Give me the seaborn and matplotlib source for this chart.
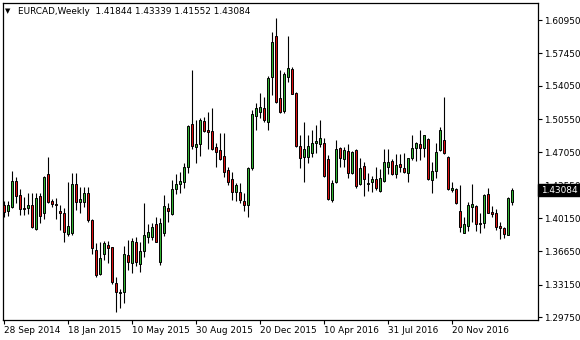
import numpy as np
import pandas as pd
import matplotlib
matplotlib.use("Agg")
import matplotlib.pyplot as plt
from matplotlib.patches import Rectangle
import seaborn as sns

# ---------------- data (EURCAD weekly OHLC) ----------------
start_date = "2014-09-28"
opens = [1.4151, 1.4085, 1.4127, 1.4400, 1.4253, 1.4120, 1.4123, 1.4148, 1.3896, 1.4246,
         1.4064, 1.4477, 1.4193, 1.4162, 1.4088, 1.4067, 1.3847, 1.3854, 1.4372, 1.4179,
         1.4186, 1.4274, 1.3994, 1.3679, 1.3423, 1.3633, 1.3731, 1.3707, 1.3329, 1.3231,
         1.3241, 1.3626, 1.3539, 1.3759, 1.3532, 1.3668, 1.3812, 1.3819, 1.3948, 1.3556,
         1.3854, 1.4116, 1.4053, 1.4325, 1.4368, 1.4396, 1.4547, 1.4998, 1.4764, 1.4792,
         1.5030, 1.4939, 1.4925, 1.4764, 1.4725, 1.4666, 1.4515, 1.4421, 1.4291, 1.4291,
         1.4193, 1.4155, 1.4536, 1.5089, 1.5131, 1.5170, 1.5019, 1.5492, 1.5926, 1.5271,
         1.5142, 1.5492, 1.5583, 1.5324, 1.4771, 1.4659, 1.4659, 1.4694, 1.4806, 1.4788,
         1.4806, 1.4634, 1.4204, 1.4396, 1.4746, 1.4634, 1.4718, 1.4484, 1.4729, 1.4372,
         1.4561, 1.4375, 1.4389, 1.4424, 1.4302, 1.4407, 1.4554, 1.4613, 1.4473, 1.4578,
         1.4536, 1.4491, 1.4641, 1.4746, 1.4788, 1.4746, 1.4844, 1.4410, 1.4505, 1.4729,
         1.4834, 1.4655, 1.4309, 1.4316, 1.4088, 1.3861, 1.3931, 1.4127, 1.4141, 1.3959,
         1.3966, 1.4267, 1.4074, 1.4064, 1.3931, 1.3906, 1.3840, 1.41844]
highs = [1.4193, 1.4193, 1.4505, 1.4449, 1.4316, 1.4239, 1.4274, 1.4281, 1.4281, 1.4274,
         1.4456, 1.4652, 1.4211, 1.4221, 1.4151, 1.4116, 1.4389, 1.4491, 1.4484, 1.4344,
         1.4344, 1.4344, 1.4000, 1.3749, 1.3766, 1.3773, 1.3773, 1.3714, 1.3392, 1.3269,
         1.3721, 1.3784, 1.3801, 1.3812, 1.3766, 1.4176, 1.3952, 1.3959, 1.4029, 1.4011,
         1.4256, 1.4169, 1.4414, 1.4480, 1.4501, 1.4589, 1.4991, 1.5569, 1.5044, 1.5061,
         1.5079, 1.5124, 1.5166, 1.4799, 1.4904, 1.4904, 1.4554, 1.4501, 1.4386, 1.4379,
         1.4274, 1.4554, 1.5149, 1.5226, 1.5324, 1.5289, 1.5506, 1.5964, 1.6111, 1.5569,
         1.5551, 1.5926, 1.5604, 1.5341, 1.4886, 1.5019, 1.4886, 1.4939, 1.4991, 1.5044,
         1.4851, 1.4676, 1.4414, 1.4834, 1.4764, 1.4764, 1.4792, 1.4722, 1.4736, 1.4641,
         1.4606, 1.4491, 1.4456, 1.4547, 1.4526, 1.4736, 1.4739, 1.4631, 1.4683, 1.4687,
         1.4701, 1.4641, 1.4886, 1.4816, 1.4939, 1.4886, 1.4851, 1.4606, 1.4799, 1.4974,
         1.5289, 1.4666, 1.4396, 1.4326, 1.4361, 1.4029, 1.4186, 1.4372, 1.4151, 1.4064,
         1.4267, 1.4326, 1.4141, 1.4106, 1.3976, 1.3924, 1.4232, 1.43339]
lows = [1.4022, 1.4036, 1.4116, 1.4169, 1.4046, 1.4046, 1.4057, 1.3913, 1.3889, 1.3966,
        1.4008, 1.4169, 1.4134, 1.4001, 1.3889, 1.3759, 1.3826, 1.3836, 1.4099, 1.4071,
        1.4127, 1.3976, 1.3633, 1.3392, 1.3416, 1.3574, 1.3539, 1.3322, 1.3031, 1.3066,
        1.3119, 1.3469, 1.3434, 1.3511, 1.3444, 1.3609, 1.3756, 1.3784, 1.3760, 1.3521,
        1.3826, 1.3976, 1.4045, 1.4265, 1.4274, 1.4326, 1.4484, 1.4739, 1.4589, 1.4669,
        1.4921, 1.4736, 1.4729, 1.4554, 1.4624, 1.4449, 1.4361, 1.4204, 1.4193, 1.4169,
        1.4092, 1.4029, 1.4519, 1.4939, 1.5061, 1.5026, 1.4939, 1.5306, 1.5226, 1.5121,
        1.5114, 1.5446, 1.5313, 1.4764, 1.4536, 1.4396, 1.4596, 1.4659, 1.4694, 1.4764,
        1.4449, 1.4204, 1.4186, 1.4379, 1.4554, 1.4547, 1.4438, 1.4477, 1.4326, 1.4361,
        1.4249, 1.4302, 1.4291, 1.4309, 1.4291, 1.4396, 1.4477, 1.4466, 1.4431, 1.4501,
        1.4491, 1.4389, 1.4624, 1.4617, 1.4624, 1.4659, 1.4414, 1.4274, 1.4438, 1.4722,
        1.4687, 1.4309, 1.4291, 1.4162, 1.3871, 1.3854, 1.3878, 1.3976, 1.3878, 1.3861,
        1.3906, 1.4064, 1.4022, 1.3889, 1.3791, 1.3801, 1.3840, 1.41552]
closes = [1.4081, 1.4148, 1.4400, 1.4246, 1.4106, 1.4113, 1.4148, 1.3924, 1.4221, 1.4039,
          1.4442, 1.4183, 1.4158, 1.4148, 1.4064, 1.3864, 1.3931, 1.4372, 1.4186, 1.4211,
          1.4274, 1.3994, 1.3696, 1.3416, 1.3591, 1.3749, 1.3696, 1.3346, 1.3234, 1.3241,
          1.3633, 1.3556, 1.3773, 1.3549, 1.3668, 1.3833, 1.3868, 1.3924, 1.3766, 1.3959,
          1.4141, 1.4092, 1.4319, 1.4372, 1.4403, 1.4547, 1.4981, 1.4774, 1.4792, 1.5040,
          1.4932, 1.4921, 1.4736, 1.4704, 1.4638, 1.4501, 1.4396, 1.4288, 1.4358, 1.4204,
          1.4155, 1.4536, 1.5107, 1.5166, 1.5177, 1.5040, 1.5485, 1.5859, 1.5233, 1.5131,
          1.5527, 1.5586, 1.5320, 1.4774, 1.4648, 1.4736, 1.4771, 1.4806, 1.4823, 1.4855,
          1.4459, 1.4214, 1.4382, 1.4739, 1.4641, 1.4729, 1.4491, 1.4711, 1.4354, 1.4536,
          1.4421, 1.4386, 1.4424, 1.4326, 1.4431, 1.4603, 1.4603, 1.4473, 1.4568, 1.4554,
          1.4501, 1.4641, 1.4746, 1.4806, 1.4746, 1.4886, 1.4421, 1.4508, 1.4708, 1.4939,
          1.4701, 1.4316, 1.4333, 1.4176, 1.3917, 1.3952, 1.4151, 1.4158, 1.3948, 1.3955,
          1.4256, 1.4071, 1.4053, 1.3924, 1.3906, 1.3843, 1.4221, 1.43084]

x_tick_labels = ["28 Sep 2014", "18 Jan 2015", "10 May 2015", "30 Aug 2015",
                 "20 Dec 2015", "10 Apr 2016", "31 Jul 2016", "20 Nov 2016"]
y_ticks = [1.29750, 1.33150, 1.36650, 1.40150, 1.43550, 1.47050,
           1.50550, 1.54050, 1.57450, 1.60950]
symbol = "EURCAD,Weekly"

# ---------------- build frame ----------------
df = pd.DataFrame({"open": opens, "high": highs, "low": lows, "close": closes})
df["date"] = pd.date_range(start_date, periods=len(df), freq="7D")
df["idx"] = np.arange(len(df))
df["bull"] = df["close"] >= df["open"]
df["bottom"] = df[["open", "close"]].min(axis=1)
df["height"] = (df["close"] - df["open"]).abs()

sns.set_theme(style="white")
plt.rcParams["font.family"] = ["DejaVu Sans"]

W, H = 580, 340
fig = plt.figure(figsize=(W / 100, H / 100), dpi=100)
left_px, right_px, top_px, bottom_px = 2.5, 537.5, 2.5, 319.5
ax = fig.add_axes([left_px / W, 1 - bottom_px / H,
                   (right_px - left_px) / W, (bottom_px - top_px) / H])

green = "#32b432"
red = "#dc1010"

# wicks
ax.vlines(df["idx"], df["low"], df["high"], color="black", linewidth=0.8, zorder=2)
# bodies
colors = np.where(df["bull"], green, red)
ax.bar(df["idx"], df["height"], bottom=df["bottom"], width=0.5,
       color=colors, edgecolor="black", linewidth=0.7, zorder=3)

ax.set_xlim(-0.25, 133.4)
ax.set_ylim(1.2949, 1.6279)

# x ticks from dates
tick_dates = pd.to_datetime(x_tick_labels, format="%d %b %Y")
tick_pos = [int(df.index[df["date"] == d][0]) for d in tick_dates]
ax.set_xticks(tick_pos)
ax.set_xticklabels(x_tick_labels, ha="left")
ax.set_yticks(y_ticks)
ax.set_yticklabels([f"{v:.5f}" for v in y_ticks])
ax.yaxis.tick_right()

ax.tick_params(axis="both", direction="out", length=3, width=0.8, color="black",
               labelsize=6.4, labelcolor="black")
ax.tick_params(axis="x", pad=1.5, bottom=True)
ax.tick_params(axis="y", pad=2, right=True, left=False)
for lbl in ax.get_xticklabels():
    lbl.set_horizontalalignment("left")

for s in ax.spines.values():
    s.set_visible(True)
    s.set_color("black")
    s.set_linewidth(0.9)
ax.grid(False)
ax.set_facecolor("white")
fig.patch.set_facecolor("white")

# header text
fig.text(5 / W, 1 - 11 / H, "\u25BC", fontsize=5, color="black",
         ha="left", va="center")
last = df.iloc[-1]
header = f"{symbol}  {last['open']:.5f} {last['high']:.5f} {last['low']:.5f} {last['close']:.5f}"
fig.text(17.5 / W, 1 - 11.5 / H, header, fontsize=6.4, color="black",
         ha="left", va="center")

# last price tag
y_last = ax.transData.transform((0, last["close"]))[1]  # display px from bottom
tag_h = 12.5
rect = Rectangle((537.5 / W, (y_last - tag_h / 2) / H), 42.5 / W, tag_h / H,
                 transform=fig.transFigure, facecolor="black", edgecolor="black",
                 zorder=10)
fig.add_artist(rect)
fig.text(541 / W, y_last / H, f"{last['close']:.5f}", fontsize=6.4, color="white",
         ha="left", va="center", zorder=11)

fig.savefig("out.png", dpi=100, facecolor="white")
